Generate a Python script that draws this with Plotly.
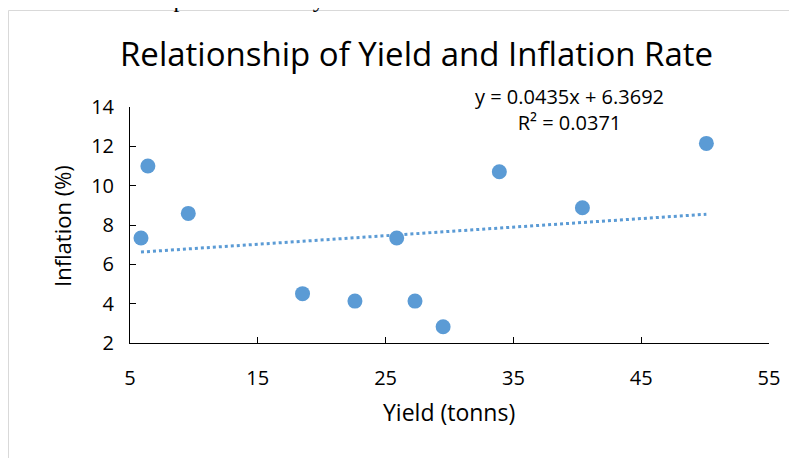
import plotly.graph_objects as go

# Data
yield_tonns = [5.86, 6.4, 9.56, 18.5, 22.6, 25.87, 27.3, 29.5, 33.9, 40.4, 50.1]
inflation_pct = [7.34, 11.0, 8.59, 4.51, 4.13, 7.34, 4.13, 2.83, 10.71, 8.88, 12.15]
trend_slope = 0.0435
trend_intercept = 6.3692
r_squared = 0.0371
x_ticks = [5, 15, 25, 35, 45, 55]
y_ticks = [2, 4, 6, 8, 10, 12, 14]

BLUE = "#5b9bd5"
FONT = "Open Sans"

x_min, x_max = min(yield_tonns), max(yield_tonns)
trend_x = [x_min, x_max]
trend_y = [trend_slope * v + trend_intercept for v in trend_x]

fig = go.Figure()
fig.add_trace(go.Scatter(
    x=trend_x, y=trend_y, mode="lines",
    line=dict(color=BLUE, width=3, dash="dot"),
    hoverinfo="skip", showlegend=False,
))
fig.add_trace(go.Scatter(
    x=yield_tonns, y=inflation_pct, mode="markers",
    marker=dict(color=BLUE, size=15, line=dict(width=0)),
    showlegend=False,
))

# page has an 8px body margin; work in page pixels and convert
OFF = 8
W, H = 797 - OFF, 458 - OFF
L, T = 130 - OFF, 107 - OFF
R = W - (769 - OFF)
B = H - (343 - OFF)
pw, ph = W - L - R, H - T - B

def px_x(p):
    return (p - OFF - L) / pw

def px_y(p):
    return (H - B - (p - OFF)) / ph

fig.update_layout(
    width=W, height=H,
    margin=dict(l=L, r=R, t=T, b=B, pad=0),
    paper_bgcolor="white", plot_bgcolor="white",
    font=dict(family=FONT, color="#000000", size=20),
    xaxis=dict(
        range=[5, 55], tickvals=x_ticks, showgrid=False, zeroline=False,
        showline=True, linecolor="#000000", linewidth=1,
        ticks="inside", ticklen=6, tickcolor="#000000",
        ticklabelstandoff=17,
        tickfont=dict(size=20, family=FONT),
    ),
    yaxis=dict(
        range=[2, 14], tickvals=y_ticks, showgrid=False, zeroline=False,
        showline=True, linecolor="#000000", linewidth=1,
        ticks="inside", ticklen=6, tickcolor="#000000",
        ticklabelstandoff=11,
        tickfont=dict(size=20, family=FONT),
    ),
    shapes=[dict(
        type="rect", xref="paper", yref="paper",
        x0=px_x(8.5), x1=px_x(830), y0=px_y(490), y1=px_y(10.5),
        line=dict(color="#d9d9d9", width=1), fillcolor="rgba(0,0,0,0)", layer="below",
    )],
    annotations=[
        dict(text="Relationship of Yield and Inflation Rate", xref="paper", yref="paper",
             x=px_x(416), y=px_y(54), xanchor="center", yanchor="middle",
             showarrow=False, font=dict(size=33, family=FONT)),
        dict(text=f"y = {trend_slope}x + {trend_intercept}<br>R² = {r_squared}",
             xref="paper", yref="paper", x=px_x(569), y=px_y(110),
             xanchor="center", yanchor="middle", align="center",
             showarrow=False, font=dict(size=20, family=FONT)),
        dict(text="Yield (tonns)", xref="paper", yref="paper",
             x=px_x(449), y=px_y(412), xanchor="center", yanchor="middle",
             showarrow=False, font=dict(size=23, family=FONT)),
        dict(text="Inflation (%)", xref="paper", yref="paper", textangle=-90,
             x=px_x(62), y=px_y(226), xanchor="center", yanchor="middle",
             showarrow=False, font=dict(size=22, family=FONT)),
        dict(text="the correlation relationship between the yield and inflation rate",
             xref="paper", yref="paper", x=px_x(-75), y=px_y(-1),
             xanchor="left", yanchor="middle", showarrow=False,
             font=dict(size=24, family="Liberation Serif")),
    ],
)

fig.write_html("out.html")
